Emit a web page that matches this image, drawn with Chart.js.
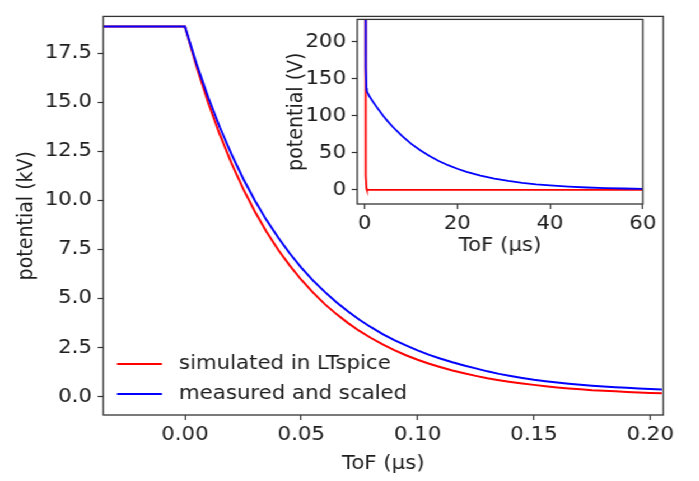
<!DOCTYPE html>
<html lang="en">
<head>
    <meta charset="UTF-8">
    <title>Potential vs ToF</title>
    <script src="https://cdn.jsdelivr.net/npm/chart.js"></script>
    <style>
        body { margin: 0; background: #fff; overflow: hidden; }
        /* the source figure is stretched sideways, so draw narrower and widen it */
        #wrap { position: relative; width: 624px; height: 481px; transform: scaleX(1.12); transform-origin: 0 0; }
        #mainChart { position: absolute; left: 0; top: 0; }
        #insetChart { position: absolute; left: 250px; top: 3px; }
    </style>
</head>
<body>
    <div id="wrap">
        <canvas id="mainChart" width="624" height="481"></canvas>
        <canvas id="insetChart" width="340" height="257"></canvas>
    </div>

    <script>
        // main plot: ToF in microseconds, potential in kV
        const mainTof = [-0.04, 0, 0.005, 0.01, 0.015, 0.02, 0.025, 0.03, 0.035, 0.04, 0.045,
            0.05, 0.055, 0.06, 0.065, 0.07, 0.075, 0.08, 0.085, 0.09, 0.095,
            0.1, 0.105, 0.11, 0.115, 0.12, 0.125, 0.13, 0.135, 0.14, 0.145,
            0.15, 0.155, 0.16, 0.165, 0.17, 0.175, 0.18, 0.185, 0.19, 0.195, 0.2, 0.205];
        const simulatedKV = [18.86, 18.86, 16.81, 14.98, 13.35, 11.90, 10.60, 9.45, 8.42, 7.50, 6.69,
            5.96, 5.31, 4.73, 4.22, 3.76, 3.35, 2.99, 2.66, 2.37, 2.11,
            1.88, 1.68, 1.50, 1.33, 1.19, 1.06, 0.94, 0.84, 0.75, 0.67,
            0.60, 0.53, 0.47, 0.42, 0.38, 0.33, 0.30, 0.27, 0.24, 0.21, 0.19, 0.17];
        const measuredKV = [18.86, 18.86, 16.96, 15.26, 13.73, 12.36, 11.12, 10.01, 9.01, 8.12, 7.31,
            6.58, 5.93, 5.35, 4.82, 4.35, 3.92, 3.54, 3.19, 2.88, 2.61,
            2.36, 2.13, 1.93, 1.75, 1.59, 1.44, 1.29, 1.16, 1.05, 0.95,
            0.86, 0.79, 0.72, 0.66, 0.61, 0.56, 0.52, 0.48, 0.45, 0.42, 0.39, 0.37];
        const mainXTicks = [0, 0.05, 0.1, 0.15, 0.2];
        const mainYTicks = [0, 2.5, 5, 7.5, 10, 12.5, 15, 17.5];

        // inset: same signals over a longer window, potential in V
        const insetTof = [0, 0.05, 0.1, 0.15, 0.2, 0.3, 0.4, 0.5, 1, 2, 3, 4, 5, 6, 8, 10, 12, 14,
            16, 18, 20, 22, 25, 28, 31, 34, 37, 40, 44, 48, 52, 56, 60];
        const insetSimulatedV = [18860, 5960, 1880, 600, 190, 19, 2, 0, 0, 0, 0, 0, 0, 0, 0, 0, 0, 0,
            0, 0, 0, 0, 0, 0, 0, 0, 0, 0, 0, 0, 0, 0, 0];
        const insetMeasuredV = [18860, 6580, 2360, 900, 400, 165, 137, 133, 126.6, 117.0, 108.2, 100.0, 92.4, 85.4, 73.0, 62.3, 53.3, 45.5,
            38.9, 33.2, 28.4, 24.2, 19.1, 15.1, 11.9, 9.4, 7.4, 5.9, 4.3, 3.1, 2.3, 1.7, 1.2];
        const insetXTicks = [0, 20, 40, 60];
        const insetYTicks = [0, 50, 100, 150, 200];

        const seriesLabels = ['simulated in LTspice', 'measured and scaled'];
        const seriesColors = ['#ff0000', '#0000ff'];

        const FONT = { family: 'DejaVu Sans', size: 19 };
        const INK = '#1e1e1e';
        const EDGE = '#333';

        function pts(xs, ys) {
            return xs.map((x, i) => ({ x: x, y: ys[i] }));
        }

        // box around the plot area, like matplotlib spines
        const framePlugin = {
            id: 'frame',
            afterDatasetsDraw(chart) {
                const a = chart.chartArea;
                const ctx = chart.ctx;
                ctx.save();
                ctx.strokeStyle = EDGE;
                ctx.lineWidth = 1.3;
                ctx.strokeRect(a.left, a.top, a.right - a.left, a.bottom - a.top);
                ctx.restore();
            }
        };

        // legend in the lower left corner of the plot area
        const cornerLegend = {
            id: 'cornerLegend',
            afterDraw(chart) {
                const a = chart.chartArea;
                const ctx = chart.ctx;
                ctx.save();
                ctx.font = FONT.size + 'px ' + FONT.family;
                ctx.textBaseline = 'middle';
                ctx.fillStyle = INK;
                chart.data.datasets.forEach((ds, i) => {
                    const y = a.bottom - 51 + i * 30;
                    ctx.strokeStyle = ds.borderColor;
                    ctx.lineWidth = 2;
                    ctx.beginPath();
                    ctx.moveTo(a.left + 12.3, y);
                    ctx.lineTo(a.left + 52.4, y);
                    ctx.stroke();
                    ctx.fillText(ds.label, a.left + 67.6, y);
                });
                ctx.restore();
            }
        };

        function axis(min, max, tickList, digits, title, titlePad, size, isX) {
            return {
                type: 'linear',
                min: min,
                max: max,
                afterBuildTicks: sc => { sc.ticks = tickList.map(v => ({ value: v })); },
                afterFit: sc => { if (isX) sc.height = size; else sc.width = size; },
                grid: { drawOnChartArea: false, drawTicks: true, tickLength: 5, tickWidth: 1.2, tickColor: EDGE, color: EDGE },
                border: { display: false },
                ticks: {
                    font: FONT,
                    color: INK,
                    padding: isX ? 4 : 5,
                    maxRotation: 0,
                    autoSkip: false,
                    callback: v => Number(v).toFixed(digits)
                },
                title: { display: true, text: title, font: FONT, color: INK, padding: titlePad }
            };
        }

        new Chart(document.getElementById('mainChart'), {
            type: 'line',
            data: {
                datasets: [
                    { label: seriesLabels[0], data: pts(mainTof, simulatedKV), borderColor: seriesColors[0], order: 1 },
                    { label: seriesLabels[1], data: pts(mainTof, measuredKV), borderColor: seriesColors[1], order: 0 }
                ]
            },
            options: {
                responsive: false,
                animation: false,
                layout: { padding: { top: 1, right: 31.8, left: 0, bottom: 0 } },
                elements: { point: { radius: 0 }, line: { borderWidth: 2, tension: 0 } },
                plugins: { legend: { display: false }, tooltip: { enabled: false } },
                scales: {
                    x: axis(-0.0351, 0.2056, mainXTicks, 2, 'ToF (μs)', { bottom: 5.6 }, 66, true),
                    y: axis(-0.935, 19.38, mainYTicks, 1, 'potential (kV)', { top: 12.4 }, 92.2, false)
                }
            },
            plugins: [framePlugin, cornerLegend]
        });

        new Chart(document.getElementById('insetChart'), {
            type: 'line',
            data: {
                datasets: [
                    { label: seriesLabels[0], data: pts(insetTof, insetSimulatedV), borderColor: seriesColors[0], order: 1 },
                    { label: seriesLabels[1], data: pts(insetTof, insetMeasuredV), borderColor: seriesColors[1], order: 0 }
                ]
            },
            options: {
                responsive: false,
                animation: false,
                layout: { padding: { top: 6.3, right: 13.5, left: 0, bottom: 0 } },
                elements: { point: { radius: 0 }, line: { borderWidth: 1.8, tension: 0 } },
                plugins: { legend: { display: false }, tooltip: { enabled: false } },
                scales: {
                    x: axis(-1.58, 60, insetXTicks, 0, 'ToF (μs)', { bottom: 2.1 }, 56, true),
                    y: axis(-19.2, 230, insetYTicks, 0, 'potential (V)', { top: 3.3 }, 69.0, false)
                }
            },
            plugins: [framePlugin]
        });
    </script>
</body>
</html>
